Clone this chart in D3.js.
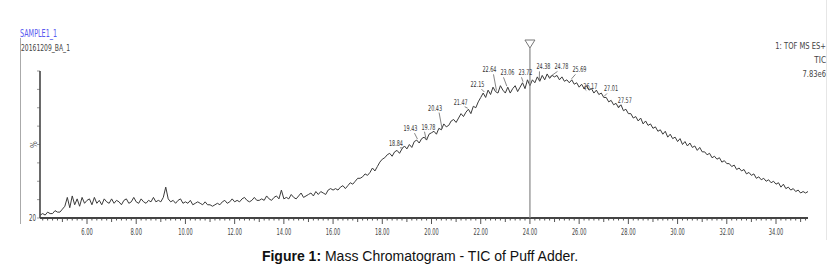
<!DOCTYPE html>
<html>
<head>
<meta charset="utf-8">
<script src="https://cdn.jsdelivr.net/npm/d3@7"></script>
<style>
  body { margin: 0; background: #fff; }
  .narrow { font-family: 'Liberation Sans Narrow', 'DejaVu Sans Condensed', sans-serif; }
</style>
</head>
<body>
<svg id="chart"></svg>
<script>
// TIC trace, one value (% of max) every 0.1 min starting at 4.1 min
let startTime = 4.1
let stepTime = 0.1
let tic = [
  2,3,2,4,3,3,5,4,4,6,
  8,14,7,15,9,13,8,14,10,12,
  13,9,14,10,12,9,13,11,10,13,
  10,12,11,9,12,13,10,11,14,11,
  10,13,11,10,12,11,14,11,12,11,
  14,21,13,11,12,10,12,13,10,11,
  10,12,9,10,11,10,9,11,9,9,
  8,9,10,9,11,12,10,11,13,11,
  12,11,13,14,12,11,12,14,12,12,
  13,12,15,13,12,14,15,13,19,13,
  14,13,16,14,13,15,17,14,15,16,
  17,15,18,16,18,17,16,19,20,19,
  20,19,21,22,20,22,24,23,25,27,
  27,28,30,29,31,34,32,35,38,40,
  41,43,44,42,45,46,44,47,49,47,
  50,48,52,53,51,54,55,53,57,58,
  59,57,61,60,64,62,63,66,67,65,
  68,71,69,72,74,71,76,75,79,82,
  85,82,87,84,89,86,85,90,87,85,
  89,85,88,90,86,89,92,88,94,90,
  94,92,96,93,97,94,98,95,97,96,
  97,94,96,93,94,92,94,91,92,89,
  91,88,90,87,88,85,87,84,85,82,
  82,79,80,77,78,75,77,73,74,71,
  71,68,69,66,68,64,66,63,64,61,
  62,59,60,57,59,55,57,54,55,52,
  54,50,52,49,51,48,49,46,48,45,
  45,43,44,41,42,40,41,38,39,37,
  37,35,36,33,34,32,33,30,31,29,
  30,27,28,26,27,25,26,24,25,23,
  24,21,23,20,21,19,20,18,19,17,
  18,17,18
]

let peakTimes = [18.84, 19.43, 19.78, 20.43, 21.47, 22.15, 22.64, 23.06, 23.72, 24.38, 24.78, 25.69, 26.17, 27.01, 27.57]
let peakHeights = [45, 55, 56, 69, 73, 85, 95, 93, 93, 97, 97, 95, 84, 82, 74]

let xTickLabels = ['6.00','8.00','10.00','12.00','14.00','16.00','18.00','20.00','22.00','24.00','26.00','28.00','30.00','32.00','34.00']
let markerTime = 24.00

let width = 835
let height = 269
let plotLeft = 40, plotRight = 808, plotTop = 71, plotBottom = 218

let svg = d3.select('#chart').attr('width', width).attr('height', height)

let xScale, yScale

// squeeze text to mimic the narrow MassLynx font
function squeeze(sel, perChar){
    sel.attr('textLength', d => (typeof d === 'string' ? d.length : 4) * perChar)
       .attr('lengthAdjust', 'spacingAndGlyphs')
}

function drawScale(){
    xScale = d3.scaleLinear().domain([4.09, 35.3]).range([plotLeft, plotRight])
    yScale = d3.scaleLinear().domain([0, 100]).range([plotBottom, plotTop])
}

function drawFrame(){
    svg.append('line').attr('x1', 20.5).attr('x2', 20.5).attr('y1', 38).attr('y2', 224)
        .attr('stroke', '#aaa').attr('stroke-width', 1)
    svg.append('line').attr('x1', 826.5).attr('x2', 826.5).attr('y1', 0).attr('y2', 240)
        .attr('stroke', '#e6e6e6').attr('stroke-width', 1)

    svg.append('text').attr('class', 'narrow').attr('x', 20).attr('y', 37)
        .attr('font-size', 10).attr('fill', '#5a5af0')
        .attr('textLength', 37).attr('lengthAdjust', 'spacingAndGlyphs').text('SAMPLE1_1')
    svg.append('text').attr('class', 'narrow').attr('x', 21).attr('y', 51)
        .attr('font-size', 8).attr('fill', '#444')
        .attr('textLength', 49).attr('lengthAdjust', 'spacingAndGlyphs').text('20161209_BA_1')

    let rt = ['1: TOF MS ES+', 'TIC', '7.83e6']
    svg.selectAll('.rt').data(rt).enter().append('text')
        .attr('class', 'narrow').attr('x', 826).attr('y', (d, i) => 49 + i * 14)
        .attr('text-anchor', 'end').attr('font-size', 8).attr('fill', '#444')
        .attr('textLength', d => d.length * 3.9).attr('lengthAdjust', 'spacingAndGlyphs')
        .text(d => d)
}

function drawAxis(){
    let minor = d3.range(42, 353, 2).map(d => d / 10).filter(d => d >= 4.1 && d <= 35.2)
    let g = svg.append('g').attr('id', 'x-axis')
    g.selectAll('line.tk').data(minor).enter().append('line')
        .attr('x1', d => xScale(d)).attr('x2', d => xScale(d))
        .attr('y1', plotBottom)
        .attr('y2', d => {
            let r = Math.round(d * 10)
            if (r % 20 === 0) return plotBottom + 6
            if (r % 10 === 0) return plotBottom + 4
            return plotBottom + 2.5
        })
        .attr('stroke', '#555').attr('stroke-width', 1)
    g.append('line').attr('x1', plotLeft).attr('x2', plotRight).attr('y1', plotBottom).attr('y2', plotBottom)
        .attr('stroke', '#444').attr('stroke-width', 2)
    g.selectAll('text').data(xTickLabels).enter().append('text')
        .attr('class', 'narrow')
        .attr('x', d => xScale(+d)).attr('y', plotBottom + 17)
        .attr('text-anchor', 'middle').attr('font-size', 8).attr('fill', '#444')
        .call(squeeze, 2.9)
        .text(d => d)

    let yg = svg.append('g').attr('id', 'y-axis')
    yg.selectAll('line').data(d3.range(0, 101, 12.5)).enter().append('line')
        .attr('x1', plotLeft - 3).attr('x2', plotLeft).attr('y1', d => yScale(d)).attr('y2', d => yScale(d))
        .attr('stroke', '#999').attr('stroke-width', 1)
    yg.append('line').attr('x1', plotLeft).attr('x2', plotLeft).attr('y1', plotTop).attr('y2', plotBottom)
        .attr('stroke', '#444').attr('stroke-width', 1.6)
    yg.append('text').attr('class', 'narrow').attr('x', 36).attr('y', plotBottom + 3)
        .attr('text-anchor', 'end').attr('font-size', 8).attr('fill', '#444')
        .attr('textLength', 7).attr('lengthAdjust', 'spacingAndGlyphs').text('20')
    yg.append('text').attr('class', 'narrow')
        .attr('transform', 'translate(37,' + yScale(50) + ') rotate(-90)')
        .attr('text-anchor', 'middle').attr('font-size', 8).attr('fill', '#444').text('%')
}

function drawTrace(){
    let line = d3.line()
        .x((d, i) => xScale(startTime + i * stepTime))
        .y(d => yScale(d))
    svg.append('path').datum(tic)
        .attr('d', line).attr('fill', 'none')
        .attr('stroke', '#3a3a3a').attr('stroke-width', 1)
}

function drawMarker(){
    let mx = xScale(markerTime)
    svg.append('line').attr('x1', mx).attr('x2', mx).attr('y1', 48).attr('y2', plotBottom)
        .attr('stroke', '#888').attr('stroke-width', 1.2)
    svg.append('path')
        .attr('d', 'M' + (mx - 5) + ',40 L' + (mx + 5) + ',40 L' + mx + ',48 Z')
        .attr('fill', '#fff').attr('stroke', '#777').attr('stroke-width', 1)
}

function drawPeaks(){
    let g = svg.append('g').attr('id', 'peaks')
    let gap = 18
    let prev = null
    peakTimes.forEach(function(t, i){
        let side = t < 24.5 ? -1 : 1
        let px = xScale(t)
        let idx = Math.round((t - startTime) / stepTime)
        let ty = yScale(tic[idx])
        let ly = yScale(peakHeights[i])
        let lx = px + side * 7
        // push right if it would collide with the previous label
        if (prev && Math.abs(prev.y - ly) < 10 && lx - prev.x < gap) lx = prev.x + gap
        prev = { x: lx, y: ly }
        g.append('line').attr('x1', px).attr('x2', lx + (lx > px ? -4 : 4))
            .attr('y1', ty - 1).attr('y2', ly - 4)
            .attr('stroke', '#666').attr('stroke-width', 0.8)
        g.append('text').attr('class', 'narrow')
            .attr('transform', 'translate(' + lx + ',' + (ly - 6) + ') scale(0.68,1)')
            .attr('text-anchor', 'middle').attr('font-size', 8).attr('fill', '#333')
            .text(t.toFixed(2))
    })
}

function drawCaption(){
    let t = svg.append('text').attr('x', 420).attr('y', 261).attr('text-anchor', 'middle')
        .attr('font-family', 'Liberation Sans, Arial, sans-serif').attr('font-size', 14).attr('fill', '#111')
    t.append('tspan').attr('font-weight', 'bold').text('Figure 1:')
    t.append('tspan').text(' Mass Chromatogram - TIC of Puff Adder.')
}

drawScale()
drawFrame()
drawAxis()
drawTrace()
drawMarker()
drawPeaks()
drawCaption()
</script>
</body>
</html>
